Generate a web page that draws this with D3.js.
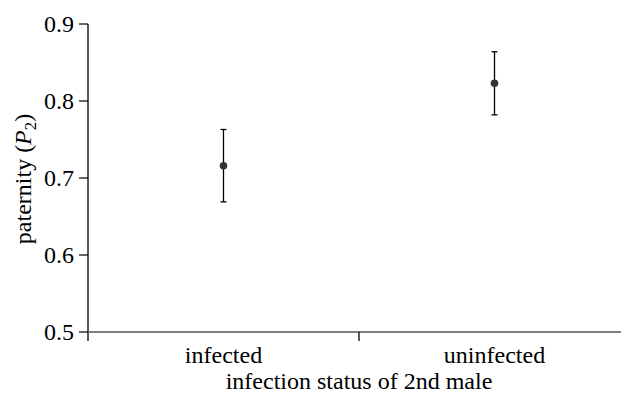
<!DOCTYPE html>
<html>
<head>
<meta charset="utf-8">
<script src="https://cdn.jsdelivr.net/npm/d3@7"></script>
<style>
  body { margin: 0; background: #fff; }
  text { font-family: "Liberation Serif", "Times New Roman", serif; }
</style>
</head>
<body>
<div id="chart"></div>
<script>
const categories = ["infected", "uninfected"];
const means = [0.716, 0.823];
const lower = [0.669, 0.782];
const upper = [0.763, 0.864];
const yTicks = [0.5, 0.6, 0.7, 0.8, 0.9];

const width = 621, height = 394;
const fs = 24;

const svg = d3.select("#chart").append("svg")
  .attr("width", width)
  .attr("height", height);

const x = d3.scaleBand().domain(categories).range([88, 630]);
const y = d3.scaleLinear().domain([0.5, 0.9]).range([332, 24]);

// y axis
const gy = svg.append("g").attr("transform", "translate(88,0)");
gy.append("line").attr("x1", 0).attr("x2", 0)
  .attr("y1", y(0.9)).attr("y2", y(0.5) + 9)
  .attr("stroke", "#000").attr("stroke-width", 1.3);
gy.selectAll(".tick").data(yTicks).enter().append("line")
  .attr("x1", -9).attr("x2", 0)
  .attr("y1", d => y(d)).attr("y2", d => y(d))
  .attr("stroke", "#000").attr("stroke-width", 1.2);
gy.selectAll(".lab").data(yTicks).enter().append("text")
  .attr("x", -14).attr("y", d => y(d))
  .attr("dy", "0.33em")
  .attr("text-anchor", "end")
  .style("font-size", fs + "px")
  .text(d => d3.format(".1f")(d));

// x axis
svg.append("line")
  .attr("x1", 88).attr("x2", 630)
  .attr("y1", y(0.5)).attr("y2", y(0.5))
  .attr("stroke", "#555").attr("stroke-width", 1.6);
svg.append("line")
  .attr("x1", x("uninfected")).attr("x2", x("uninfected"))
  .attr("y1", y(0.5)).attr("y2", y(0.5) + 9)
  .attr("stroke", "#000").attr("stroke-width", 1.3);
svg.selectAll(".xlab").data(categories).enter().append("text")
  .attr("x", d => x(d) + x.bandwidth() / 2)
  .attr("y", 363)
  .attr("text-anchor", "middle")
  .style("font-size", fs + "px")
  .text(d => d);

svg.append("text")
  .attr("x", 359).attr("y", 389)
  .attr("text-anchor", "middle")
  .style("font-size", fs + "px")
  .text("infection status of 2nd male");

const yl = svg.append("text")
  .attr("transform", "translate(31,179) rotate(-90)")
  .attr("text-anchor", "middle")
  .style("font-size", fs + "px");
yl.append("tspan").text("paternity (");
yl.append("tspan").style("font-style", "italic").text("P");
yl.append("tspan").attr("dy", 5).style("font-size", (fs * 0.7) + "px").text("2");
yl.append("tspan").attr("dy", -5).text(")");

// error bars and points
const pts = categories.map((c, i) => ({ c, m: means[i], lo: lower[i], hi: upper[i] }));
const cx = d => x(d.c) + x.bandwidth() / 2;
const g = svg.append("g");
g.selectAll(".eb").data(pts).enter().append("line")
  .attr("x1", cx).attr("x2", cx)
  .attr("y1", d => y(d.lo)).attr("y2", d => y(d.hi))
  .attr("stroke", "#000").attr("stroke-width", 1.3);
["lo", "hi"].forEach(k => {
  g.selectAll(".cap" + k).data(pts).enter().append("line")
    .attr("x1", d => cx(d) - 3).attr("x2", d => cx(d) + 3)
    .attr("y1", d => y(d[k])).attr("y2", d => y(d[k]))
    .attr("stroke", "#000").attr("stroke-width", 1.3);
});
g.selectAll("circle").data(pts).enter().append("circle")
  .attr("cx", cx).attr("cy", d => y(d.m))
  .attr("r", 3.8).attr("fill", "#333");
</script>
</body>
</html>
